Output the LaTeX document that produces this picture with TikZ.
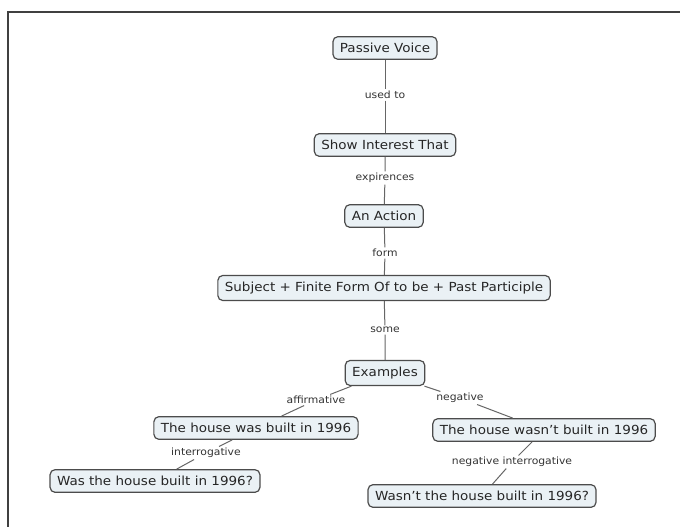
\documentclass[tikz,border=0pt]{standalone}
\usepackage{fontspec}
\setmainfont[FakeStretch=1.08]{DejaVu Sans}
\definecolor{cfill}{RGB}{234,241,245}
\begin{document}
\begin{tikzpicture}[x=1pt,y=-1pt,
  concept/.style={draw=black!70, line width=1.2pt, rounded corners=5pt, fill=cfill, inner xsep=7pt, inner ysep=6.5pt, font=\fontsize{12.5}{14}\selectfont, text=black!85},
  lab/.style={fill=white, inner sep=1.5pt, font=\fontsize{10}{11}\selectfont, text=black!80},
  conn/.style={draw=black!60, line width=1pt}]
\useasboundingbox (0,0) rectangle (680,527);
\fill[white] (0,0) rectangle (680,527);
\draw[black!75, line width=2pt] (680,12) -- (8,12) -- (8,527);
% concepts
\node[concept] (pv) at (385,48) {Passive Voice};
\node[concept] (si) at (385,145) {Show Interest That};
\node[concept] (aa) at (384,216) {An Action};
\node[concept] (sf) at (384,288) {Subject + Finite Form Of to be + Past Participle};
\node[concept] (ex) at (385,373) {Examples};
\node[concept] (h1) at (256,428) {The house was built in 1996};
\node[concept] (h2) at (544,430) {The house wasn't built in 1996};
\node[concept] (q1) at (155,481) {Was the house built in 1996?};
\node[concept] (q2) at (482,496) {Wasn't the house built in 1996?};
% labels
\node[lab] (l1) at (385,95) {used to};
\node[lab] (l2) at (385,178) {expirences};
\node[lab] (l3) at (385,253) {form};
\node[lab] (l4) at (385,330) {some};
\node[lab] (l5) at (316,400) {affirmative};
\node[lab] (l6) at (460,398) {negative};
\node[lab] (l7) at (206,453) {interrogative};
\node[lab] (l8) at (512,462) {negative interrogative};
% connectors
\draw[conn] (pv) -- (l1) -- (si);
\draw[conn] (si) -- (l2) -- (aa);
\draw[conn] (aa) -- (l3) -- (sf);
\draw[conn] (sf) -- (l4) -- (ex);
\draw[conn] (ex) -- (l5) -- (h1);
\draw[conn] (ex) -- (l6) -- (h2);
\draw[conn] (h1) -- (l7) -- (q1);
\draw[conn] (h2) -- (l8) -- (q2);
\end{tikzpicture}
\end{document}
